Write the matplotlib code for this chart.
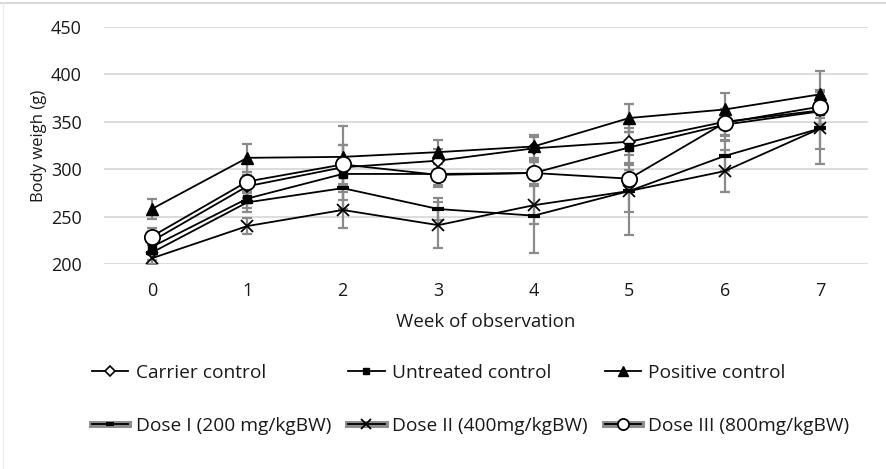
import numpy as np
import matplotlib
matplotlib.use('Agg')
import matplotlib.pyplot as plt
from matplotlib.lines import Line2D
from matplotlib.legend_handler import HandlerTuple

plt.rcParams['font.family'] = ['Open Sans', 'DejaVu Sans']

weeks = [0, 1, 2, 3, 4, 5, 6, 7]

carrier = [224, 282, 302, 309, 322, 329, 350, 362]
untreated = [218, 269, 295, 295, 296, 323, 347, 361]
positive = [258, 312, 313, 318, 324, 354, 363, 379]
dose1 = [212, 265, 280, 258, 251, 277, 314, 343]
dose2 = [206, 240, 257, 241, 262, 277, 298, 343]
dose3 = [229, 287, 305, 294, 296, 290, 349, 366]

carrier_sd = [10, 12, 44, 12, 12, 14, 14, 20]
untreated_sd = [8, 10, 12, 12, 12, 16, 16, 16]
positive_sd = [11, 15, 13, 13, 12, 15, 17, 25]
dose1_sd = [8, 10, 12, 12, 39, 46, 16, 22]
dose2_sd = [6, 8, 19, 24, 20, 22, 22, 38]
dose3_sd = [9, 10, 21, 13, 12, 14, 14, 18]

labels = ['Carrier control', 'Untreated control', 'Positive control',
          'Dose I (200 mg/kgBW)', 'Dose II (400mg/kgBW)', 'Dose III (800mg/kgBW)']

fig = plt.figure(figsize=(8.86, 4.69), dpi=100)
ax = fig.add_axes([104/886, 1-264/469, (868-104)/886, (264-27)/469])

# (values, sd, marker style, legend marker size)
series = [
    (carrier, carrier_sd, dict(marker='D', ms=6, mfc='white', mec='black', mew=1.2), 5),
    (untreated, untreated_sd, dict(marker='s', ms=6, mfc='black', mec='black'), 5),
    (positive, positive_sd, dict(marker='^', ms=9, mfc='black', mec='black'), 7),
    (dose1, dose1_sd, dict(marker='_', ms=8, mec='black', mew=3), 6),
    (dose2, dose2_sd, dict(marker='x', ms=9, mec='black', mew=1.3), 7),
    (dose3, dose3_sd, dict(marker='o', ms=11, mfc='white', mec='black', mew=1.3), 8),
]

handles = []
for i, (vals, sd, st, lms) in enumerate(series):
    ax.errorbar(weeks, vals, yerr=sd, fmt='none', ecolor='#8a8a8a',
                elinewidth=1.6, capsize=3.5, capthick=1.6, zorder=2)
    ax.plot(weeks, vals, color='black', lw=1.3, zorder=3, **st)
    lst = dict(st)
    lst['ms'] = lms
    mk = Line2D([], [], color='black', lw=1.3, **lst)
    if i >= 3:
        back = Line2D([], [], color='#8c8c8c', lw=5)
        handles.append((back, mk))
    else:
        handles.append(mk)

ax.set_xlim(-0.5, 7.5)
ax.set_ylim(200, 450)
ax.set_yticks([200, 250, 300, 350, 400, 450])
ax.set_xticks(weeks)
ax.grid(axis='y', color='#d9d9d9', lw=1.3)
ax.set_axisbelow(True)
for s in ax.spines.values():
    s.set_visible(False)
ax.tick_params(length=0, labelsize=13, labelcolor='#1a1a1a')
ax.tick_params(axis='x', pad=13)
ax.tick_params(axis='y', pad=16)
ax.set_xlabel('Week of observation', fontsize=13.5, color='#1a1a1a', labelpad=9)
ax.set_ylabel('Body weigh (g)', fontsize=12, color='#1a1a1a', labelpad=3)

# column-major order so rows read like the original
order = [0, 3, 1, 4, 2, 5]
fig.legend([handles[k] for k in order], [labels[k] for k in order],
           handler_map={tuple: HandlerTuple(ndivide=1)},
           ncol=3, loc='upper left', bbox_to_anchor=(92/886, 1-364/469),
           frameon=False, fontsize=13.8, handlelength=1.9, handletextpad=0.37,
           columnspacing=0.9, labelspacing=1.8, borderpad=0, borderaxespad=0,
           labelcolor='#1a1a1a')

# chart frame edges
fig.add_artist(Line2D([0, 1], [1-3/469, 1-3/469], color='#d0d0d0', lw=1.2))
fig.add_artist(Line2D([3/886, 3/886], [0, 1-3/469], color='#ececec', lw=1))

fig.savefig('out.png', dpi=100)
